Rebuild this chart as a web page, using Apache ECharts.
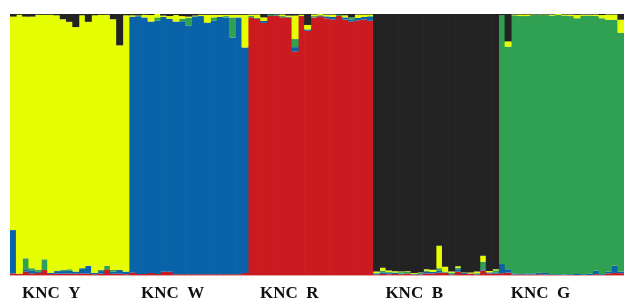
<!DOCTYPE html>
<html>
<head>
<meta charset="utf-8">
<script src="https://cdn.jsdelivr.net/npm/echarts@6/dist/echarts.min.js"></script>
<style>
  html, body { margin: 0; padding: 0; background: #fff; }
  #main { width: 624px; height: 302px; }
</style>
</head>
<body>
<div id="main"></div>
<script>
// populations and how many individuals each has
var groupNames = ['KNC  Y', 'KNC  W', 'KNC  R', 'KNC  B', 'KNC  G'];
var groupSizes = [19, 19, 20, 20, 20];

// membership per individual, one array per cluster (stack order bottom -> top)
var redQ = [
  .006,.005,.013,.006,.008,.019,.004,.005,.005,.006,.005,.006,.005,.003,.005,.022,.005,.005,.003,
  .01,.004,.004,.008,.004,.012,.012,.003,.003,.003,.003,.003,.003,.003,.003,.003,.003,.003,.008,
  .988,.981,.966,.992,.993,.988,.986,.856,.992,.936,.987,.991,.984,.979,.992,.979,.971,.976,.979,.974,
  .002,.004,.003,.004,.003,.006,.002,.002,.006,.006,.009,.009,.002,.013,.004,.006,.002,.017,.006,.005,
  .007,.009,.002,.002,.002,.002,.003,.002,0,0,0,0,0,0,0,.003,0,.006,.008,.007
];
var blueQ = [
  .166,0,.009,.01,.004,0,.004,.01,.01,.01,.008,.02,.03,.005,.01,0,.008,.015,.01,
  .98,.987,.983,.963,.971,.977,.97,.968,.969,.952,.988,.989,.964,.972,.986,.984,.907,.984,.864,
  0,0,.008,0,0,0,.003,.017,0,.005,0,.004,.007,.01,0,.008,.008,.009,.01,.015,
  .003,.006,.004,.004,.002,0,.002,.002,.006,.006,.008,0,.002,.009,.004,0,.002,.005,.004,.005,
  .035,.013,.004,.002,.004,.004,.006,.006,.003,.003,.002,.003,.004,.003,.005,.013,.003,.006,.027,.005
];
var greenQ = [
  0,0,.042,.01,.008,.041,0,0,.005,.006,0,0,0,0,.005,.013,.006,0,0,
  0,.004,0,0,.012,0,0,0,.01,.03,0,0,0,.012,0,.005,.077,0,0,
  .005,.004,0,.005,.005,.004,0,.031,0,0,.005,0,0,0,.005,0,.008,0,0,.003,
  .003,.006,.004,.002,.006,.006,0,.004,.005,0,.009,.004,.005,.006,0,0,.003,.029,0,.008,
  .954,.853,.989,.988,.986,.99,.987,.988,.991,.993,.992,.989,.98,.991,.989,.977,.981,.966,.943,.916
];
var yellowQ = [
  .818,.992,.926,.964,.977,.937,.989,.98,.96,.948,.937,.969,.935,.987,.977,.962,.961,.86,.982,
  .005,0,.01,.025,.013,.005,.01,.025,.01,.005,.003,.005,.03,.01,.008,.005,.01,.01,.125,
  .005,.013,.013,0,0,.006,.005,.09,.005,.017,.006,.005,.007,.009,0,.008,0,.013,.009,.006,
  .005,.012,.006,.004,.002,.002,.004,.002,.005,.008,.086,.019,.004,.006,.002,.004,.006,.023,.005,.004,
  0,.02,.003,.006,.006,.002,.002,.002,.004,.004,.004,.006,.013,.004,.004,.005,.012,.02,.02,.05
];
var blackQ = [
  .01,.003,.01,.01,.003,.003,.003,.005,.02,.03,.05,.005,.03,.005,.003,.003,.02,.12,.005,
  .005,.005,.003,.004,0,.006,.008,.004,.008,.01,.006,.003,.003,.003,.003,.003,.003,.003,.003,
  .002,.002,.013,.003,.002,.002,.006,.006,.003,.042,.002,0,.002,.002,.003,.005,.013,.002,.002,.002,
  .987,.972,.983,.986,.987,.986,.992,.99,.978,.98,.888,.968,.987,.966,.99,.99,.987,.926,.985,.978,
  .004,.105,.002,.002,.002,.002,.002,.002,.002,0,.002,.002,.003,.002,.002,.002,.004,.002,.002,.022
];

var individuals = [];
groupSizes.forEach(function (n, g) {
  for (var i = 0; i < n; i++) individuals.push(groupNames[g].replace(/\s+/g, '') + '_' + (i + 1));
});

var gridLeft = 10, gridRight = 0, gridTop = 14, gridBottom = 27;
var W = 624;
var barW = (W - gridLeft - gridRight) / individuals.length;

// population labels under each block
var labels = [];
var start = 0;
groupSizes.forEach(function (n, g) {
  labels.push({
    type: 'text',
    left: gridLeft + start * barW + 12,
    top: 285,
    style: {
      text: groupNames[g],
      font: 'bold 17px "Liberation Serif", "Times New Roman", serif',
      fill: '#111'
    }
  });
  start += n;
});

function clusterSeries(name, data, color) {
  return {
    name: name,
    type: 'bar',
    stack: 'q',
    // a touch wider than the slot so neighbours overlap and no white seams show
    barWidth: barW + 0.7,
    data: data,
    itemStyle: { color: color },
    silent: true,
    animation: false
  };
}

var myChart = echarts.init(document.getElementById('main'), null, { renderer: 'canvas' });
myChart.setOption({
  backgroundColor: '#fff',
  animation: false,
  grid: { left: gridLeft, right: gridRight, top: gridTop, bottom: gridBottom },
  xAxis: [{
    type: 'category',
    data: individuals,
    axisLine: { show: true, lineStyle: { color: '#e8a4a4', width: 1 } },
    axisTick: { show: false },
    axisLabel: { show: false }
  }, {
    type: 'category',
    position: 'top',
    data: individuals,
    axisLine: { show: true, lineStyle: { color: '#c8c8c8', width: 1 } },
    axisTick: { show: false },
    axisLabel: { show: false }
  }],
  yAxis: {
    type: 'value',
    min: 0,
    max: 1,
    show: false
  },
  series: [
    clusterSeries('red', redQ, '#cc1b20'),
    clusterSeries('blue', blueQ, '#0a63a8'),
    clusterSeries('green', greenQ, '#30a052'),
    clusterSeries('yellow', yellowQ, '#e6ff00'),
    clusterSeries('black', blackQ, '#232323')
  ],
  graphic: labels
});
</script>
</body>
</html>
